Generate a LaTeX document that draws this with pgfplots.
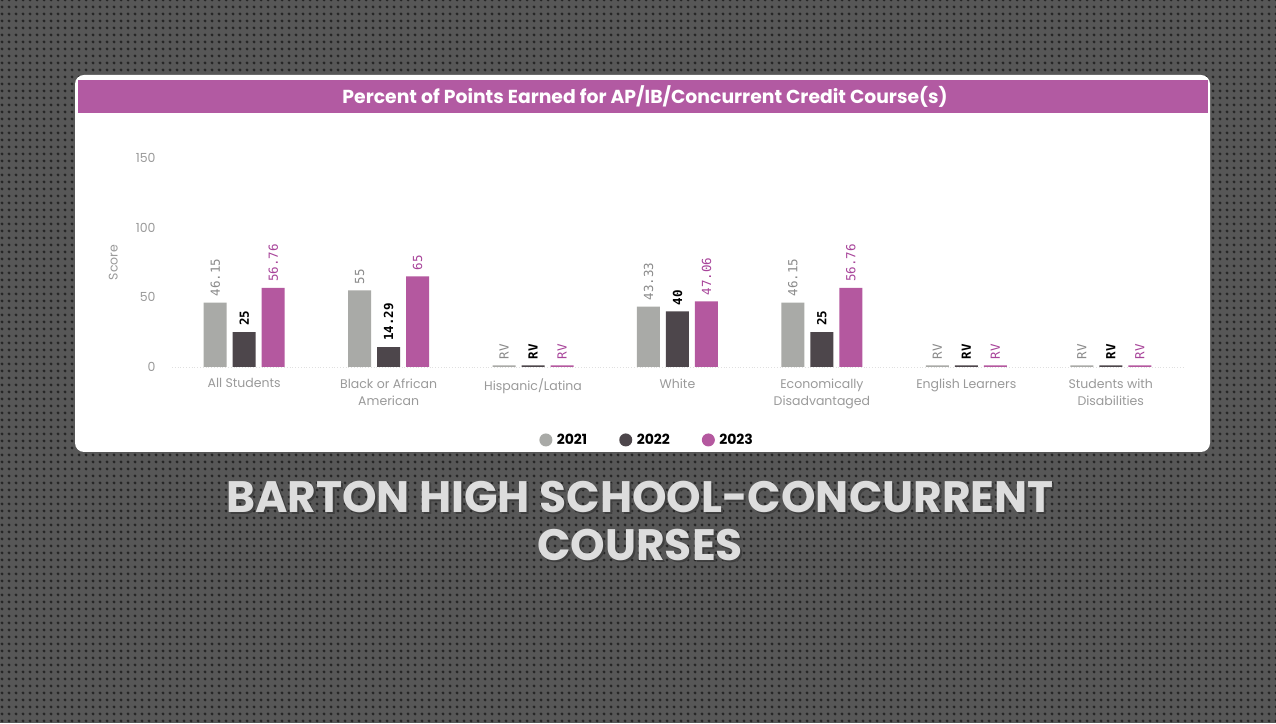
\documentclass[border=0pt]{standalone}
\usepackage{pgfplots}
\pgfplotsset{compat=1.18}
\usepackage{pgfplotstable}
\usepackage{fontspec}
\setmainfont{Poppins}
\newfontfamily\labfont{DejaVu Sans Mono}
\usetikzlibrary{patterns}

\definecolor{c21}{HTML}{A9AAA7}
\definecolor{c22}{HTML}{4D464B}
\definecolor{c23}{HTML}{B4589F}
\definecolor{lab21}{HTML}{8A8A8A}
\definecolor{lab23}{HTML}{A8449A}
\definecolor{barc}{HTML}{B25AA2}
\definecolor{bg}{HTML}{575757}
\definecolor{dotc}{HTML}{262626}
\definecolor{tickc}{HTML}{9A9A9A}
\definecolor{titlec}{HTML}{DDDDDD}

\pgfdeclarepatternformonly{bgdots}{\pgfqpoint{0pt}{0pt}}{\pgfqpoint{7pt}{7pt}}{\pgfqpoint{7pt}{7pt}}{%
  \pgfpathcircle{\pgfqpoint{3.5pt}{3.5pt}}{1.8pt}\pgfusepath{fill}}

\pgfplotstableread{
x y21 l21 y22 l22 y23 l23
0 46.15 46.15 25 25 56.76 56.76
1 55 55 14.29 14.29 65 65
2 1.2 RV 1.2 RV 1.2 RV
3 43.33 43.33 40 40 47.06 47.06
4 46.15 46.15 25 25 56.76 56.76
5 1.2 RV 1.2 RV 1.2 RV
6 1.2 RV 1.2 RV 1.2 RV
}\datatable

\begin{document}
\begin{tikzpicture}
\useasboundingbox (0pt,0pt) rectangle (1276pt,723pt);
\begin{scope}[x=1pt,y=1pt]
\fill[bg] (0,0) rectangle (1276,723);
\fill[pattern=bgdots, pattern color=dotc] (0,0) rectangle (1276,723);
% white panel
\fill[white, rounded corners=9pt] (75,271) rectangle (1210,648);
\fill[barc] (78,610) rectangle (1208,643);
\node[text=white, font=\bfseries\fontsize{18.8}{21}\selectfont] at (645,626.5)
  {Percent of Points Earned for AP/IB/Concurrent Credit Course(s)};
\end{scope}

\begin{axis}[
  at={(172pt,356pt)}, anchor=south west,
  scale only axis, width=1011pt, height=209pt,
  xmin=-0.5, xmax=6.5, ymin=0, ymax=150,
  ybar=6pt, bar width=23pt,
  axis line style={draw=none},
  major tick length=0pt,
  ytick={0,50,100,150},
  xtick={0,1,2,3,4,5,6},
  /pgf/number format/assume math mode=true,
  xticklabels={{All Students},{Black or African\\American},{Hispanic/Latina},{White},{Economically\\Disadvantaged},{English Learners},{Students with\\Disabilities}},
  xticklabel style={align=center, text=tickc, font=\fontsize{12.5}{17}\selectfont, yshift=-8pt},
  yticklabel style={text=tickc, font=\fontsize{12.5}{13}\selectfont, xshift=-13pt},
  ylabel={Score},
  every axis y label/.style={at={(axis description cs:-0.058,0.5)}, rotate=90, anchor=center, text=tickc, font=\fontsize{12.5}{13}\selectfont},
  point meta=explicit symbolic,
  legend style={at={(0.470,-0.349)}, anchor=center, legend columns=3, draw=none, fill=none,
    font=\bfseries\fontsize{14}{16}\selectfont,
    /tikz/every even column/.append style={column sep=30pt}},
  legcirc/.style={legend image code/.code={\fill (0pt,0pt) circle (6.5pt); \path (9pt,0pt);}},
  clip=false,
]
\draw[black!12, dotted, line width=0.8pt] (axis cs:-0.5,0) -- (axis cs:6.5,0);
\addplot[fill=c21, draw=none, legcirc, nodes near coords,
  every node near coord/.append style={rotate=90, anchor=west, inner xsep=6pt, text=lab21, font=\labfont\fontsize{12.5}{13}\selectfont}]
  table[x=x, y=y21, meta=l21] {\datatable};
\addplot[fill=c22, draw=none, legcirc, nodes near coords,
  every node near coord/.append style={rotate=90, anchor=west, inner xsep=6pt, text=black, font=\labfont\bfseries\fontsize{12.5}{13}\selectfont}]
  table[x=x, y=y22, meta=l22] {\datatable};
\addplot[fill=c23, draw=none, legcirc, nodes near coords,
  every node near coord/.append style={rotate=90, anchor=west, inner xsep=6pt, text=lab23, font=\labfont\fontsize{12.5}{13}\selectfont}]
  table[x=x, y=y23, meta=l23] {\datatable};
\legend{2021,2022,2023}
\end{axis}

\begin{scope}[x=1pt,y=1pt]
\node[text=black!75, font=\bfseries\fontsize{44}{50}\selectfont] at (642,224) {BARTON HIGH SCHOOL-CONCURRENT};
\node[text=titlec, font=\bfseries\fontsize{44}{50}\selectfont] at (640,226) {BARTON HIGH SCHOOL-CONCURRENT};
\node[text=black!75, font=\bfseries\fontsize{44}{50}\selectfont] at (642,176) {COURSES};
\node[text=titlec, font=\bfseries\fontsize{44}{50}\selectfont] at (640,178) {COURSES};
\end{scope}
\end{tikzpicture}
\end{document}
